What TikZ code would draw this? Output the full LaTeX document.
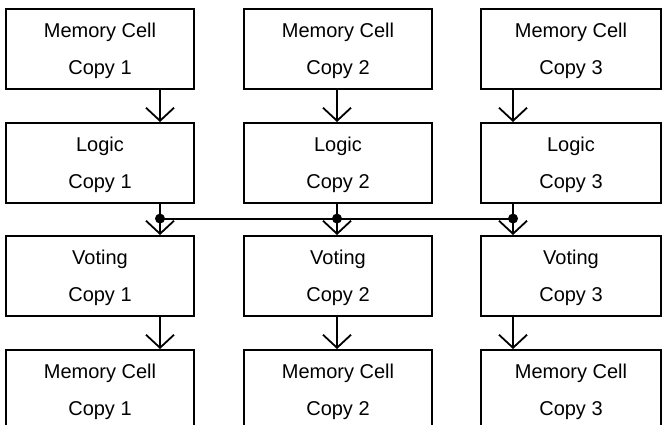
\documentclass[tikz,border=0pt]{standalone}
\usepackage{fontspec}
\setmainfont{Liberation Sans}
\usetikzlibrary{arrows.meta,calc}

\begin{document}
\begin{tikzpicture}[x=1pt,y=-1pt,
  cell/.style={draw, line width=2pt, minimum height=80pt, anchor=north west,
    align=center, inner sep=0pt, font=\fontsize{20}{37}\selectfont},
  flow/.style={line width=2pt, -{Straight Barb[length=13pt,width=28pt,line width=1.8pt]}},
  bus/.style={line width=2pt},
  tap/.style={circle, fill, inner sep=0pt, minimum size=10pt}]
  \useasboundingbox (0,0) rectangle (662,425);
  \clip (0,0) rectangle (662,425);
  % copy / left edge / box width / arrow x
  \foreach \c/\lx/\w/\ax in {1/5/188/160, 2/243/188/337, 3/480/180/513} {
    \coordinate (ax\c) at (\ax,0);
    \node[cell, minimum width=\w pt] (mem\c) at (\lx,8) {\rule{0pt}{19pt}Memory Cell\\Copy \c};
    \node[cell, minimum width=\w pt] (logic\c) at (\lx,122) {\rule{0pt}{19pt}Logic\\Copy \c};
    \node[cell, minimum width=\w pt] (vote\c) at (\lx,235) {\rule{0pt}{19pt}Voting\\Copy \c};
    \node[cell, minimum width=\w pt] (out\c) at (\lx,349) {\rule{0pt}{19pt}Memory Cell\\Copy \c};
    \draw[flow] (mem\c.south -| ax\c) -- (logic\c.north -| ax\c);
    \draw[flow] (logic\c.south -| ax\c) -- (vote\c.north -| ax\c);
    \draw[flow] (vote\c.south -| ax\c) -- (out\c.north -| ax\c);
    \node[tap] (dot\c) at ($(logic\c.south -| ax\c)!0.47!(vote\c.north -| ax\c)$) {};
  }
  \draw[bus] (dot1.center) -- (dot3.center);
\end{tikzpicture}
\end{document}
